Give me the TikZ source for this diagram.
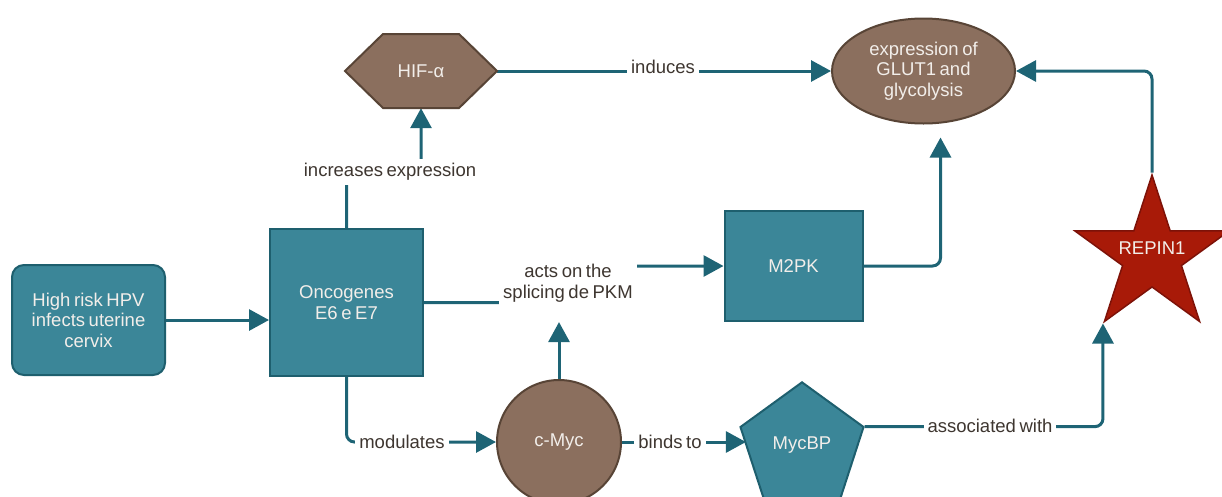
\documentclass[tikz,border=0pt]{standalone}
\usepackage{fontspec}
\setmainfont{Liberation Sans}[WordSpace=0.7]
\usetikzlibrary{shapes.geometric,arrows.meta,calc}
\pgfdeclarelayer{background}
\pgfsetlayers{background,main}
\definecolor{tealF}{RGB}{59,134,152}
\definecolor{tealD}{RGB}{30,95,110}
\definecolor{brownF}{RGB}{139,111,94}
\definecolor{brownD}{RGB}{88,68,54}
\definecolor{arrC}{RGB}{30,100,117}
\definecolor{starF}{RGB}{168,26,8}
\definecolor{starD}{RGB}{125,18,8}
\definecolor{lblC}{RGB}{62,54,48}
\definecolor{txtC}{RGB}{242,238,234}
\begin{document}
\begin{tikzpicture}[x=1pt,y=-1pt,
  every node/.style={font=\fontsize{18.5}{20.5}\selectfont, inner sep=0pt},
  tealbox/.style={draw=tealD, fill=tealF, line width=2pt, text=txtC, align=center},
  brownshape/.style={draw=brownD, fill=brownF, line width=2pt, text=txtC, align=center},
  lbl/.style={fill=white, text=lblC, align=center, inner sep=4pt},
  arr/.style={draw=arrC, line width=3pt, rounded corners=8pt, -{Triangle[length=20pt,width=21pt]}},
]
\useasboundingbox (0,0) rectangle (1222,496);

% shapes
\node[tealbox, rounded corners=12pt, minimum width=153, minimum height=110] (hpv) at (88.5,320) {High risk HPV\\infects uterine\\cervix};
\node[tealbox, minimum width=153, minimum height=147] (onc) at (346.5,302.5) {Oncogenes\\E6 e E7};
\node[tealbox, minimum width=138, minimum height=110] (m2pk) at (793.5,266) {M2PK};
\node[brownshape, ellipse, minimum width=183, minimum height=105] (glut) at (923.5,71) {expression of\\GLUT1 and\\glycolysis};
\node[brownshape, circle, minimum size=124] (cmyc) at (559,442) {c-Myc};
\node[tealbox, regular polygon, regular polygon sides=5, minimum size=129.4] (mycbp) at (802,447) {\raisebox{7pt}{MycBP}};
\node[star, star points=5, star point ratio=2.618, minimum size=162, draw=starD, fill=starF, line width=1.5pt, text=txtC] (rep) at (1152,256) {\smash{\makebox[0pt]{\raisebox{2pt}{REPIN1}}}};
\filldraw[draw=brownD, fill=brownF, line width=2pt] (345,71) -- (383,34) -- (459,34) -- (497,71) -- (459,108) -- (383,108) -- cycle;
\node[text=txtC, minimum width=152, minimum height=74] (hif) at (421,71) {HIF-α};

% labels
\node[lbl] (inc) at (390,172) {increases expression};
\node[lbl] (ind) at (663,67) {induces};
\node[lbl] (acts) at (568,283) {acts on the\\splicing de PKM};
\node[lbl] (mod) at (402,442) {modulates};
\node[lbl] (bind) at (670,442) {binds to};
\node[lbl] (assoc) at (990,426) {associated with};

% connectors
\begin{pgfonlayer}{background}
\draw[arr] (hpv.east) -- (hpv.east -| onc.west);
\draw[arr] (onc.north) |- (inc.center) -| (hif.south);
\draw[arr] (hif.east) -- (glut.west);
\draw[arr] (onc.east) -| (acts.center) |- (m2pk.west);
\draw[arr, shorten >=16pt] (cmyc.north) -- (cmyc.north |- acts.south);
\draw[arr] (onc.south) |- (cmyc.west);
\draw[arr] (cmyc.east) -- (cmyc.east -| mycbp.west);
\draw[arr] (mycbp.corner 5) -| (rep.outer point 3);
\draw[arr, shorten >=13pt] (m2pk.east) -| ([xshift=17pt]glut.south);
\draw[arr] (rep.outer point 1) |- (glut.east);
\end{pgfonlayer}
\end{tikzpicture}
\end{document}
